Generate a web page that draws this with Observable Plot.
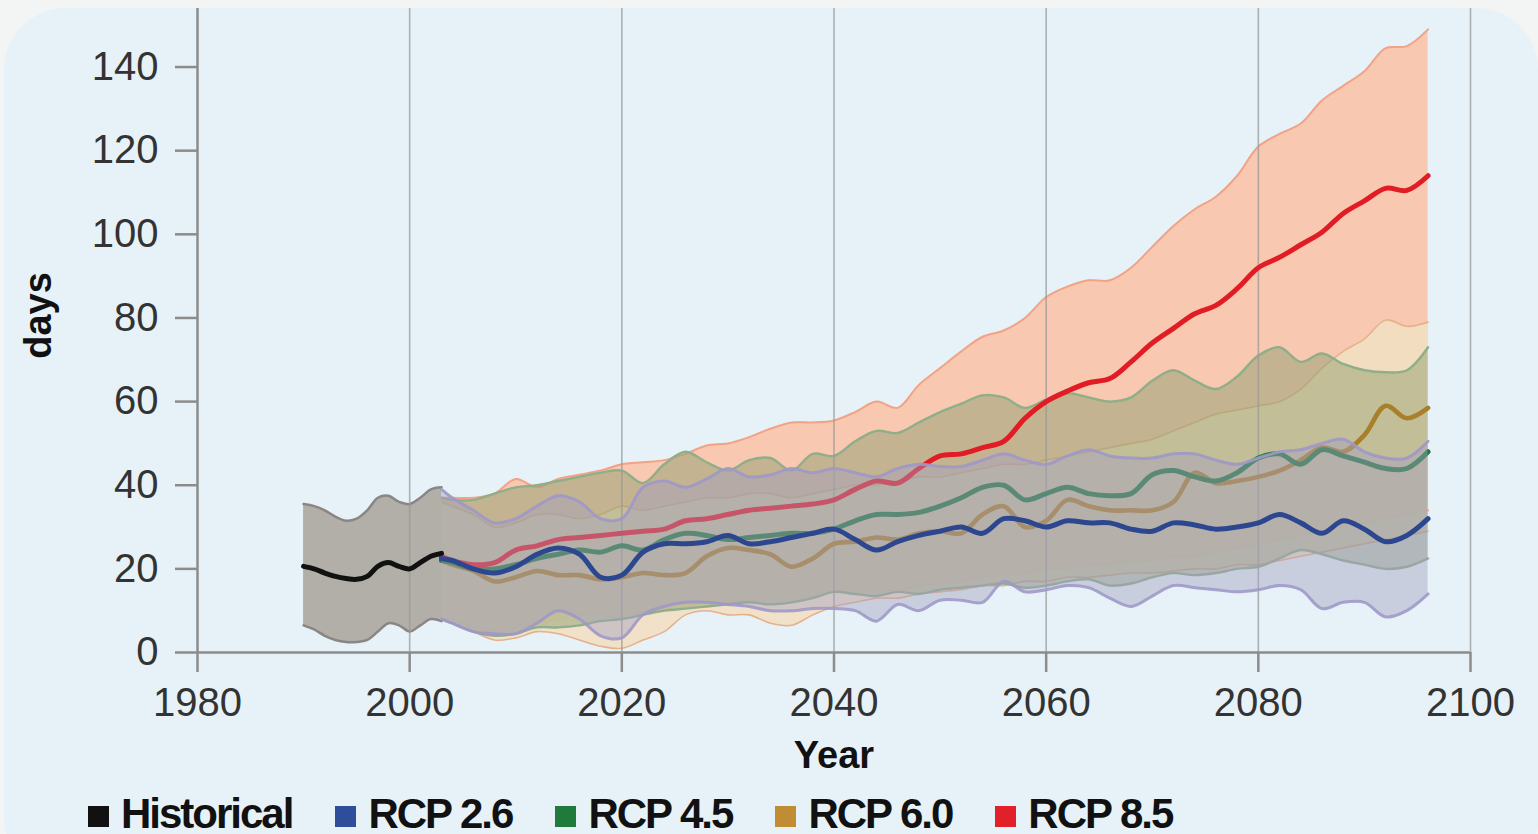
<!DOCTYPE html>
<html><head><meta charset="utf-8">
<script src="https://cdn.jsdelivr.net/npm/d3@7"></script>
<script src="https://cdn.jsdelivr.net/npm/@observablehq/plot@0.6"></script>
<style>
html,body{margin:0;padding:0;background:#f3f4f4;width:1538px;height:834px;overflow:hidden;font-family:"Liberation Sans",Arial,Helvetica,sans-serif;}
#panel{position:absolute;left:4px;top:8px;width:1534px;height:836px;background:#e6f2f7;border-radius:62px 62px 20px 20px;}
#chart{position:absolute;left:0;top:0;}
#legend{position:absolute;left:88px;top:794px;display:flex;align-items:center;gap:43px;font-weight:bold;font-size:42px;line-height:40px;letter-spacing:-2px;color:#111;}
.item{display:flex;align-items:center;}
.sw{width:21px;height:21px;margin-right:12px;margin-top:4px;}
</style></head><body>
<div id="panel"></div><div id="chart"></div><div id="legend"></div>
<script>
// ---- data ----
const histYears = [1990,1991,1992,1993,1994,1995,1996,1997,1998,1999,2000,2001,2002,2003];
const histMean  = [20.6,20,19,18.2,17.7,17.5,18.2,20.6,21.5,20.6,20,21.5,23,23.7];
const histHigh  = [35.5,35,34,32.5,31.5,32,34,37,37.5,36,35.5,37,39,39.5];
const histLow   = [6.5,5.5,4,3,2.5,2.5,3,5,7,6.5,5,6.5,8,7.5];

const scenYears = [2003,2004,2006,2008,2010,2012,2014,2016,2018,2020,
  2022,2024,2026,2028,2030,2032,2034,2036,2038,2040,
  2042,2044,2046,2048,2050,2052,2054,2056,2058,2060,
  2062,2064,2066,2068,2070,2072,2074,2076,2078,2080,
  2082,2084,2086,2088,2090,2092,2094,2096];

const rcp26Mean = [22.5,22,20,19,20.5,23.5,25,23.5,18,18.5, 24,26,26,26.5,28,26,26.5,27.5,28.5,29.5,
  27,24.5,26.5,28,29,30,28.5,32,31.5,30, 31.5,31,31,29.5,29,31,30.5,29.5,30,31, 33,31,28.5,31.5,29.5,26.5,28,32];
const rcp26High = [39,37,34,31,32,35,37.5,36,32,32, 39.5,41,39.5,41.5,44,42,42.5,44,43,44,
  43,42,44,45,44.5,44.5,46,47.5,46,45, 47,48.5,47,46.5,46.5,47.5,47.5,46,45,46.5, 48,48.5,50,51,48,46.5,46.5,50.5];
const rcp26Low  = [8,7,5,4.5,4.5,7,10,8,4,3.5, 9,11,12,12,11.5,11,10,10,10.5,10.5,
  10,7.5,11.5,10,12.5,12.5,12,17,14.5,15, 16,15.5,13,11,13.5,16,15.5,15,14.5,15, 16,15,10.5,12,12,8.5,10,14];

const rcp45Mean = [22,21.5,20,20,21,22.5,23.5,24.5,24,25.5, 24.5,27,28.5,28,27,27.5,28,28.5,28.5,29.5,
  31.5,33,33,33.5,35,37,39.5,40,36.5,38, 39.5,38,37.5,38,42.5,43.5,42,41,43,46.5, 47.5,45,48.5,47,45.5,44,44,48];
const rcp45High = [37,36.5,36.5,38,39.5,40,41,42,43,43.5, 40.5,45,48,45.5,43.5,46,46.5,43.5,47.5,47,
  50.5,53,52.5,55,57.5,59.5,61.5,61,58.5,60.5, 62,61,60,61,65,67.5,65,63,66,71, 73,69.5,71.5,69,67.5,67,67.5,73];
const rcp45Low  = [8,7,5,4,4.5,6,6,6.5,7.5,8, 9,10,10.5,11,11.5,12,11.5,12,13,14.5,
  14,13.5,14.5,14,15,15.5,16,16.5,15.5,16, 17,17.5,16,16.5,18,19,18.5,19,20,20.5, 22.5,24.5,23.5,22,21,20,20.5,22.5];

const rcp60Mean = [22,21,19.5,17,18,19.5,18.5,18.5,17.5,18, 19,18.5,19,23,25,24.5,23.5,20.5,22.5,26,
  26.5,27.5,27,28.5,29,28.5,33,35,30,31.5, 36.5,35,34,34,34,36,43,40.5,41,42, 43.5,46,49,48,52,59,56,58.5];
const rcp60High = [36,35,33,30,31,33,33,32,33,35, 34,35,36,37,37,38,38,37,38,39,
  40,40,41,42,42,43,44,45,45,46, 47,48,49,50,51,53,55,57,58,59, 60,63,68,72,75,79.5,78,79];
const rcp60Low  = [8,7,5,3,3.5,5,4.5,3,1.5,1, 3,5,9,10,9,9,7,6.5,9,11,
  12,13,13,14,14.5,15,16,16,17,17, 18,18,18.5,19,19,19.5,20,20,21,21, 22,23,24,25,26,27,28,29];

const rcp85Mean = [23,22,21,21.5,24.5,25.5,27,27.5,28,28.5, 29,29.5,31.5,32,33,34,34.5,35,35.5,36.5,
  39,41,40.5,44,47,47.5,49,50.5,56,60, 62.5,64.5,65.5,69.5,74,77.5,81,83,87,92, 94.5,97.5,100.5,105,108,111,110.5,114];
const rcp85High = [37,37,37,38,41.5,39.5,41.5,42.5,43.5,45, 45.5,46,47.5,49.5,50,51.5,53.5,55,55,55.5,
  57.5,60,58.5,64,68,72,75.5,77,80,85, 87.5,89,89,92,97,102,106,109,114,121, 124,126.5,132,135.5,139,144.5,145,149];
const rcp85Low  = [8,8,6,5,6,7,8,9,9,8.5, 9.5,10.5,11,12,12,12.5,13,13,13.5,14,
  14,15,15,16,16.5,17,18,18.5,19,20, 20,21,21,22,22,23,23,24,25,26, 27,28,29,30,31,32,33,34];

const xTicks = [1980,2000,2020,2040,2060,2080,2100];
const gridYears = [2000,2020,2040,2060,2080,2100];
const yTicks = [0,20,40,60,80,100,120,140];
const legendLabels = ["Historical","RCP 2.6","RCP 4.5","RCP 6.0","RCP 8.5"];

// ---- styles ----
const legendColors = ["#111111","#2e4d9b","#1f7a3c","#c08c34","#e12029"];

const toRows = (years, lo, hi, mean) => years.map((year,i)=>({year, lo: lo[i], hi: hi[i], mean: mean[i]}));
const hist = toRows(histYears, histLow, histHigh, histMean);
const r26 = toRows(scenYears, rcp26Low, rcp26High, rcp26Mean);
const r45 = toRows(scenYears, rcp45Low, rcp45High, rcp45Mean);
const r60 = toRows(scenYears, rcp60Low, rcp60High, rcp60Mean);
const r85 = toRows(scenYears, rcp85Low, rcp85High, rcp85Mean);

const curve = "catmull-rom";
function band(data, fill, fillOpacity, stroke, strokeWidth, strokeOpacity=1) {
  return [
    Plot.areaY(data, {x:"year", y1:"lo", y2:"hi", fill, fillOpacity, curve}),
    Plot.lineY(data, {x:"year", y:"hi", stroke, strokeWidth, strokeOpacity, curve}),
    Plot.lineY(data, {x:"year", y:"lo", stroke, strokeWidth, strokeOpacity, curve})
  ];
}
const meanLine = (data, stroke, w) => Plot.lineY(data, {x:"year", y:"mean", stroke, strokeWidth:w, curve, strokeLinecap:"round", strokeLinejoin:"round"});

const chart = Plot.plot({
  width:1538, height:780, marginLeft:197, marginRight:68, marginTop:8, marginBottom:128,
  style:{background:"transparent", fontFamily:"Liberation Sans, Arial, sans-serif", overflow:"visible"},
  x:{domain:[1980,2100], label:null},
  y:{domain:[0,154], label:null},
  marks:[
    ...band(r85, "#f8c8b0", 1, "#f2a387", 2),
    ...band(r60, "#f2dfc2", 0.9, "#e6b08a", 1.6),
    ...band(r45, "#8c9c6c", 0.48, "#8fae8a", 2.4),
    ...band(hist, "#b2aea8", 1, "#8a8683", 2.5),
    Plot.ruleX(gridYears, {stroke:"#999999", strokeWidth:1.6, strokeOpacity:0.75}),
    meanLine(r85, "#e21c24", 5),
    meanLine(r60, "#a9802a", 4.6),
    meanLine(r45, "#207a3c", 5),
    ...band(r26, "#a59fc2", 0.44, "#9f98c8", 3, 0.9),
    meanLine(r26, "#2c4790", 5),
    meanLine(hist, "#111111", 5),
    Plot.ruleX([1980], {stroke:"#8c8c8c", strokeWidth:2.5}),
    Plot.ruleY([0], {stroke:"#8c8c8c", strokeWidth:2.5}),
    Plot.axisY({ticks:yTicks, tickSize:22, tickPadding:17, fontSize:40, stroke:"#8c8c8c", strokeWidth:2.5, fill:"#333333", label:null}),
    Plot.axisX({ticks:xTicks, tickSize:20, tickPadding:15, fontSize:40, tickFormat:d=>String(d), stroke:"#8c8c8c", strokeWidth:2.5, fill:"#333333", label:null}),
    Plot.text(["Year"], {frameAnchor:"bottom", lineAnchor:"middle", textAnchor:"middle", dy:103, text:d=>d, fontSize:38, fontWeight:"bold", fill:"#111111"}),
    Plot.text(["days"], {frameAnchor:"left", lineAnchor:"middle", textAnchor:"middle", dx:-159, dy:-15, rotate:-90, text:d=>d, fontSize:38, fontWeight:"bold", fill:"#111111"})
  ]
});
document.getElementById("chart").appendChild(chart);

const legend = document.getElementById("legend");
legendLabels.forEach((lab,i)=>{
  const it = document.createElement("div"); it.className="item";
  const sw = document.createElement("span"); sw.className="sw"; sw.style.background = legendColors[i];
  const tx = document.createElement("span"); tx.textContent = lab;
  it.appendChild(sw); it.appendChild(tx); legend.appendChild(it);
});
</script></body></html>
